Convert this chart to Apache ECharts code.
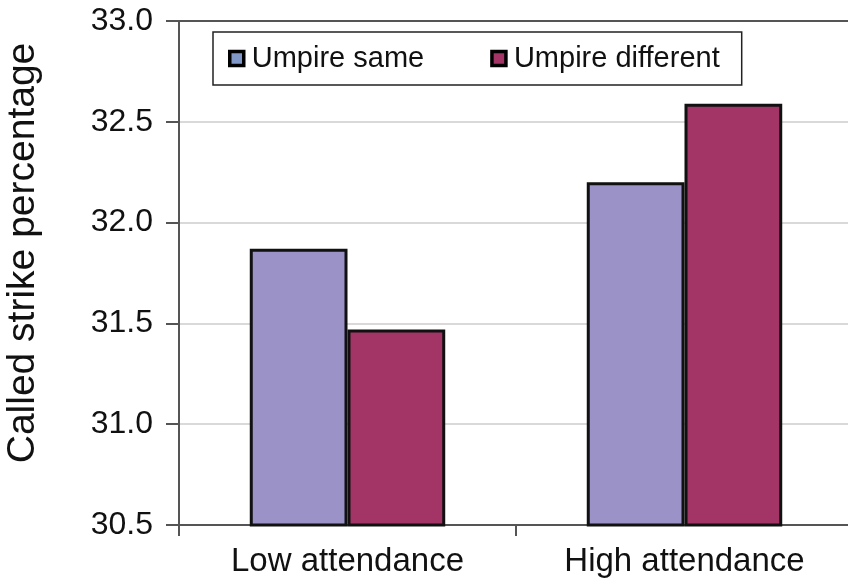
<!DOCTYPE html>
<html>
<head>
<meta charset="utf-8">
<script src="https://cdn.jsdelivr.net/npm/echarts@6/dist/echarts.min.js"></script>
<style>
html,body{margin:0;padding:0;background:#fff;}
#chart{width:848px;height:584px;}
</style>
</head>
<body>
<div id="chart"></div>
<script>
const categories = ['Low attendance', 'High attendance'];
const seriesNames = ['Umpire same', 'Umpire different'];
const umpireSame = [31.87, 32.20];
const umpireDifferent = [31.47, 32.59];
const yTicks = { min: 30.5, max: 33.0, interval: 0.5 };
const yTitle = 'Called strike percentage';

const FONT = '"Liberation Sans", Arial, Helvetica, sans-serif';
const colors = ['#9B93C8', '#A33566'];
const legendColors = ['#8098C8', '#A33566'];

const chart = echarts.init(document.getElementById('chart'), null, { renderer: 'canvas' });
chart.setOption({
  animation: false,
  backgroundColor: '#ffffff',
  textStyle: { fontFamily: FONT },
  grid: { left: 179, top: 21, width: 674, height: 504, containLabel: false, outerBoundsMode: 'none' },
  legend: {
    left: 213, top: 32,
    orient: 'horizontal',
    padding: [12, 22, 12, 15],
    borderColor: '#222', borderWidth: 1.5,
    backgroundColor: '#fff',
    itemWidth: 14, itemHeight: 14, itemGap: 66,
    textStyle: { fontFamily: FONT, fontSize: 29, color: '#111', padding: [0, 0, 0, 3] },
    data: seriesNames.map((n, i) => ({
      name: n, icon: 'rect',
      itemStyle: { color: legendColors[i], borderColor: '#000', borderWidth: 3.5 }
    }))
  },
  xAxis: [{
    type: 'category', data: categories, position: 'bottom',
    boundaryGap: true,
    axisLine: { show: true, lineStyle: { color: '#555', width: 2 } },
    axisTick: { show: true, alignWithLabel: false, length: 11, inside: false, lineStyle: { color: '#555', width: 2 } },
    axisLabel: { fontFamily: FONT, fontSize: 33, color: '#111', margin: 20 },
    splitLine: { show: false }
  }, {
    type: 'category', data: categories, position: 'top',
    axisLine: { show: true, onZero: false, lineStyle: { color: '#555', width: 2 } },
    axisTick: { show: false }, axisLabel: { show: false }, splitLine: { show: false }
  }],
  yAxis: {
    type: 'value', min: yTicks.min, max: yTicks.max, interval: yTicks.interval,
    name: yTitle, nameLocation: 'middle', nameRotate: 90, nameGap: 136,
    nameTextStyle: { fontFamily: FONT, fontSize: 39, color: '#111', padding: [0, 0, 0, 40] },
    axisLine: { show: true, onZero: false, lineStyle: { color: '#555', width: 2 } },
    axisTick: { show: true, length: 13, inside: false, lineStyle: { color: '#555', width: 2 } },
    axisLabel: { fontFamily: FONT, fontSize: 32, color: '#111', margin: 26, formatter: v => v.toFixed(1) },
    splitLine: { show: true, lineStyle: { color: '#d9d9d9', width: 2 } }
  },
  series: [
    { name: seriesNames[0], type: 'bar', data: umpireSame, barGap: '0%', barCategoryGap: '42%',
      itemStyle: { color: colors[0], borderColor: '#111', borderWidth: 3 } },
    { name: seriesNames[1], type: 'bar', data: umpireDifferent, barGap: '0%', barCategoryGap: '42%',
      itemStyle: { color: colors[1], borderColor: '#111', borderWidth: 3 } }
  ]
});
</script>
</body>
</html>
